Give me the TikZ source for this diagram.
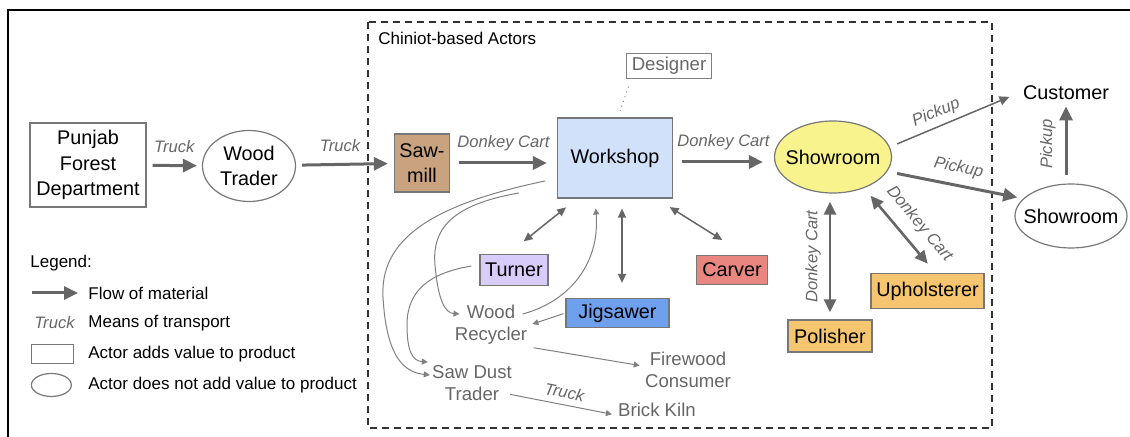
\documentclass[tikz,border=0pt]{standalone}
\usepackage{fontspec}
\setmainfont{Liberation Sans}
\usetikzlibrary{arrows.meta, positioning, shapes.geometric}

\definecolor{linegray}{HTML}{666666}
\definecolor{thingray}{HTML}{808080}
\definecolor{bordergray}{HTML}{777777}
\definecolor{textgray}{HTML}{666666}
\definecolor{sawtan}{HTML}{C9A27F}
\definecolor{workblue}{HTML}{D2E1FA}
\definecolor{turnerpurple}{HTML}{D8CCFA}
\definecolor{jigblue}{HTML}{6FA0EE}
\definecolor{carverred}{HTML}{E8867F}
\definecolor{finishorange}{HTML}{F6C570}
\definecolor{showyellow}{HTML}{F9F38D}

\newcommand{\actorfont}{\fontsize{9.9}{12.8}\selectfont}
\newcommand{\grayfont}{\fontsize{9.3}{11}\selectfont}
\newcommand{\transportfont}{\fontsize{8.3}{10}\selectfont\itshape}
\newcommand{\legendfont}{\fontsize{8.5}{10}\selectfont}
\newcommand{\tightlabel}[1]{\makebox[0pt]{#1}}

\tikzset{
  actor/.style={draw=bordergray, line width=0.6pt, rectangle, font=\actorfont, align=center, inner sep=1pt},
  trader/.style={draw=bordergray, line width=0.6pt, ellipse, font=\actorfont, align=center, inner sep=0pt},
  minor/.style={font=\grayfont, text=textgray, align=center, inner sep=1pt},
  mode/.style={font=\transportfont, text=textgray, inner sep=1pt},
  keytext/.style={font=\legendfont, anchor=west, inner sep=1pt},
  dashbox/.style={draw=black!80, line width=0.6pt, dash pattern=on 3.5pt off 2.5pt},
  flow/.style={draw=linegray, line width=1.5pt, -{Triangle[length=7pt,width=6.5pt]}},
  cart/.style={draw=linegray, line width=1.3pt, {Triangle[length=6.5pt,width=6pt]}-{Triangle[length=6.5pt,width=6pt]}},
  link/.style={draw=linegray, line width=0.75pt, {Triangle[length=4.5pt,width=4pt]}-{Triangle[length=4.5pt,width=4pt]}},
  pickup/.style={draw=linegray, line width=0.75pt, -{Triangle[length=5pt,width=4.5pt]}},
  waste/.style={draw=thingray, line width=0.5pt, -{Triangle[length=3pt,width=3pt]}},
}

\begin{document}
\begin{tikzpicture}[x=0.5pt, y=-0.5pt]
  \useasboundingbox (0,0) rectangle (1130,437);
  \draw[line width=1pt] (8,470) -- (8,10) -- (1160,10);
  \draw[dashbox] (368,22) rectangle (992,428);
  \node[keytext] (chiniot) at (376,38) {Chiniot-based Actors};

  % actors along the chain
  \node[actor, minimum width=58pt, minimum height=42pt] (forest) at (88,165) {Punjab\\Forest\\Department};
  \node[trader, minimum width=46.5pt, minimum height=35.5pt] (woodtrader) at (249,166) {Wood\\Trader};
  \node[actor, fill=sawtan, minimum width=27.5pt, minimum height=29pt] (sawmill) at (422,163) {Saw-\\mill};
  \node[actor, fill=workblue, minimum width=57.5pt, minimum height=40pt] (workshop) at (615,158) {Workshop};
  \node[actor, draw=thingray, text=textgray, font=\grayfont, minimum width=42.5pt, minimum height=12.5pt] (designer) at (669,66) {Designer};
  \node[trader, fill=showyellow, minimum width=58.5pt, minimum height=36pt] (showroom) at (833,157) {\tightlabel{Showroom}};
  \node[font=\actorfont, inner sep=2pt] (customer) at (1066,93) {Customer};
  \node[trader, minimum width=56pt, minimum height=32pt] (outlet) at (1071,216) {\tightlabel{Showroom}};

  % workshop helpers
  \node[actor, fill=turnerpurple, minimum width=34pt, minimum height=15.5pt] (turner) at (514,270) {Turner};
  \node[actor, fill=jigblue, minimum width=51.5pt, minimum height=14.5pt] (jigsawer) at (617.5,313) {Jigsawer};
  \node[actor, fill=carverred, minimum width=35.5pt, minimum height=14.5pt] (carver) at (732,270) {Carver};
  \node[actor, fill=finishorange, minimum width=42pt, minimum height=16pt] (polisher) at (830,336) {Polisher};
  \node[actor, fill=finishorange, minimum width=56.5pt, minimum height=17.5pt] (upholsterer) at (927.5,291) {Upholsterer};

  % by-products
  \node[minor] (recycler) at (491,325) {Wood\\Recycler};
  \node[minor] (firewood) at (688,370) {Firewood\\Consumer};
  \node[minor] (sawdust) at (472,383) {Saw Dust\\Trader};
  \node[minor] (brickkiln) at (657,410) {Brick Kiln};

  % flow of material
  \draw[flow, shorten <=3pt, shorten >=2.5pt] (forest) -- (woodtrader)
    node[mode, midway, above=4.5pt] {Truck};
  \draw[flow, shorten <=3pt, shorten >=3pt] (woodtrader) -- (sawmill)
    node[mode, pos=0.45, above=4.5pt] {Truck};
  \draw[flow, shorten <=4.5pt, shorten >=5pt] (sawmill.east) -- (sawmill.east -| workshop.west)
    node[mode, midway, above=4.5pt] {Donkey Cart};
  \draw[flow, shorten <=4.5pt, shorten >=5.5pt] ([yshift=-2pt]workshop.east) -- ([yshift=-2pt]workshop.east -| showroom.west)
    node[mode, midway, above=4.5pt] {Donkey Cart};
  \draw[pickup, shorten <=4pt, shorten >=5pt] (showroom.10) -- (customer.west)
    node[mode, pos=0.4, sloped, above=1.5pt] {Pickup};
  \draw[flow, shorten <=5pt, shorten >=3pt] (showroom.-15) -- (outlet.160)
    node[mode, midway, sloped, above=3pt] {Pickup};
  \draw[flow, shorten <=4pt, shorten >=1pt] (customer.south |- outlet.north) -- (customer.south)
    node[mode, midway, sloped, above=3.5pt] {Pickup};
  \draw[cart, shorten <=3.5pt, shorten >=4pt] (polisher.north) -- (polisher.north |- showroom.south)
    node[mode, midway, sloped, above=3pt] {Donkey Cart};
  \draw[cart, shorten <=5pt, shorten >=6pt] (showroom.-45) -- ([xshift=4pt]upholsterer.north)
    node[mode, pos=0.57, sloped, above=4pt] {Donkey Cart};
  \draw[dotted, draw=thingray, line width=0.5pt, shorten <=4pt, shorten >=3.5pt]
    ([xshift=2.5pt]designer.south west) -- ([xshift=1.5pt]workshop.north);

  % workshop and its helpers
  \draw[link, shorten <=7pt, shorten >=10pt] ([xshift=-19pt]workshop.south) -- ([xshift=-3pt]turner.north);
  \draw[link, shorten <=5pt, shorten >=7.5pt] ([xshift=3.5pt]workshop.south) -- ([xshift=2.25pt]jigsawer.north);
  \draw[link, shorten <=8pt, shorten >=14pt] ([xshift=-8.5pt]workshop.south east) -- ([xshift=7pt]carver.north);

  % waste
  \draw[waste] ([xshift=-6pt,yshift=-11.5pt]workshop.west) .. controls (430,205) and (380,240) .. (383,297)
    .. controls (386,350) and (400,372) .. ([yshift=4pt]sawdust.west);
  \draw[waste] ([xshift=-19pt,yshift=-17.5pt]workshop.west) .. controls (450,205) and (432,230) .. (435,265)
    .. controls (438,300) and (445,313) .. ([xshift=3.5pt,yshift=5.5pt]recycler.west);
  \draw[waste] ([xshift=-4pt,yshift=2pt]turner.west) .. controls (430,273) and (407,290) .. (407,325)
    .. controls (407,350) and (412,361) .. ([xshift=-1pt,yshift=10.5pt]sawdust.west);
  \draw[waste, shorten >=5pt] ([xshift=-3.5pt,yshift=5.5pt]recycler.east) .. controls (568,302) and (600,265) .. ([xshift=-10pt]workshop.south);
  \draw[waste, shorten <=1pt, shorten >=1.5pt] (jigsawer.west) -- (recycler.east);
  \draw[waste, shorten <=2pt, shorten >=1.5pt] (recycler.south east) -- ([yshift=2pt]firewood.west);
  \draw[waste, shorten <=1pt, shorten >=2pt] ([xshift=-3pt,yshift=-5.5pt]sawdust.east) -- ([yshift=-2.5pt]brickkiln.west)
    node[mode, midway, sloped, above=2pt] {Truck};

  % legend
  \node[keytext] (legend) at (28,263) {Legend:};
  \node[keytext] (flowtext) at (86,293) {Flow of material};
  \node[keytext] (modetext) at (86,323) {Means of transport};
  \node[keytext] (addtext) at (86,354) {Actor adds value to product};
  \node[keytext] (noaddtext) at (86,385) {Actor does not add value to product};
  \draw[flow] ([xshift=-27pt]flowtext.west) -- ([xshift=-4pt]flowtext.west);
  \node[mode, left=4.5pt of modetext] (modekey) {Truck};
  \node[draw=bordergray, line width=0.6pt, minimum width=21pt, minimum height=9.5pt, inner sep=0pt, left=6pt of addtext] (addkey) {};
  \node[draw=bordergray, line width=0.6pt, ellipse, minimum width=20pt, minimum height=11.5pt, inner sep=0pt, left=7pt of noaddtext] (noaddkey) {};
\end{tikzpicture}
\end{document}
